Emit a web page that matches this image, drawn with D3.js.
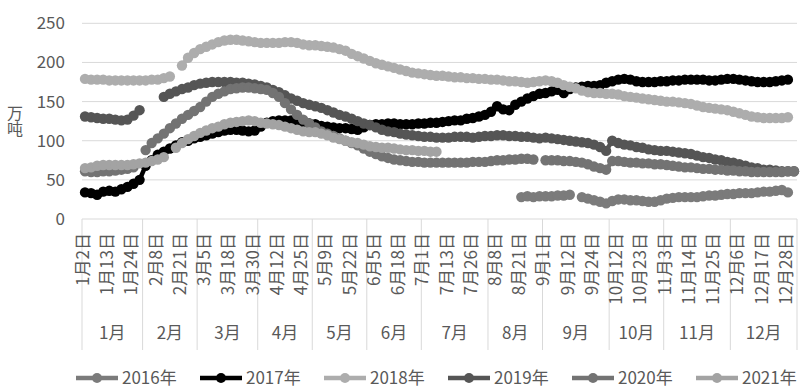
<!DOCTYPE html>
<html>
<head>
<meta charset="utf-8">
<script src="https://cdn.jsdelivr.net/npm/d3@7"></script>
<style>
  body { margin: 0; background: #fff; }
  svg { display: block; font-family: "Noto Sans CJK SC", "Noto Sans", sans-serif; }
</style>
</head>
<body>
<svg id="chart"></svg>
<script>
// ---- data ----
const years = ["2016年", "2017年", "2018年", "2019年", "2020年", "2021年"];
const colors = ["#7b7b7b", "#000000", "#adadad", "#555555", "#737373", "#a3a3a3"];

const months = ["1月", "2月", "3月", "4月", "5月", "6月", "7月", "8月", "9月", "10月", "11月", "12月"];
// number of dates that fall in each month group
const monthDays = [10, 9, 10, 9, 9, 9, 11, 9, 11, 9, 11, 11];

// a label is shown on every 4th date
const tickLabels = ["1月2日", "1月13日", "1月24日", "2月8日", "2月21日", "3月5日", "3月18日", "3月30日",
  "4月12日", "4月25日", "5月9日", "5月22日", "6月5日", "6月18日", "7月1日", "7月13日", "7月26日",
  "8月8日", "8月21日", "9月1日", "9月12日", "9月24日", "10月12日", "10月23日", "11月3日",
  "11月14日", "11月25日", "12月6日", "12月17日", "12月28日"];
const tickEvery = 4;

const yTicks = [0, 50, 100, 150, 200, 250];

const v2016 = [
  null, null, null, null, null, null, null, null, null, null, null, null,
  null, null, null, null, null, null, null, null, null, null, null, null,
  null, null, null, null, null, null, null, null, null, null, null, null,
  null, null, null, null, null, null, null, null, null, null, null, null,
  null, null, null, null, null, null, null, null, null, null, null, null,
  null, null, null, null, null, null, null, null, null, null, null, null,
  28, 29, 28, 29, 29, 29, 30, 30, 31, null, 28, 26, 24, 22, 20, 23, 25, 25, 24, 24,
  23, 22, 22, 24, 26, 27, 28, 28, 28, 28, 29, 30, 30, 31, 32, 32, 33, 33, 33, 34,
  35, 35, 36, 37, 34, null];

const v2017 = [
  34, 33, 31, 35, 36, 35, 38, 41, 45, 50,
  68, 75, 82, 86, 90, 94, 98, 100, 103, 105, 107, 109, 111, 113, 114, 114, 113, 112, 113,
  118, 123, 125, 126, 126, 126, 125, 124, 122, 121, 119, 118, 117, 116, 116, 115, 114, 117, 120,
  121, 121, 122, 122, 121, 121, 121, 122, 122, 123, 123, 124, 125, 126, 126, 128, 129, 131, 133,
  137, 144, 140, 139, 146, 150, 154, 157, 160, 161, 163, 165, 161, 166, 168, 169, 170, 170, 171,
  174, 176, 178, 179, 178, 176, 175, 175, 175, 176, 176, 177, 177, 178, 178, 178, 178, 177, 177,
  178, 179, 179, 178, 177, 176, 175, 175, 175, 176, 177, 178, null];

const v2018 = [
  179, 178, 178, 178, 177, 177, 177, 177, 177, 177, 177, 178, 178, 180, 182, null,
  196, 206, 212, 217, 220, 223, 226, 228, 229, 229, 228, 227, 226,
  225, 225, 225, 225, 226, 226, 225, 223, 222, 222,
  221, 220, 219, 217, 215, 211, 208, 205, 202, 199,
  197, 195, 193, 191, 189, 187, 186, 185, 184, 183,
  183, 182, 181, 181, 180, 180, 179, 179, 178, 178,
  177, 176, 176, 175, 174, 175, 176, 177, 176, 174,
  171, 169, 167, 164, 162, 161, 161, 160, 160, 159,
  157, 156, 155, 154, 153, 152, 151, 150, 150, 149,
  148, 147, 145, 143, 142, 141, 140, 139, 137, 135,
  133, 131, 130, 129, 129, 129, 129, 130, null];

const v2019 = [
  131, 130, 129, 128, 128, 127, 126, 127, 132, 139, null, null, null,
  156, 160, 163, 166, 168, 171, 173, 174, 175, 175, 175, 175, 174, 174, 173, 172,
  170, 168, 165, 162, 158, 154, 151, 148, 146, 144,
  142, 139, 136, 133, 131, 128, 125, 122, 120, 117,
  114, 112, 111, 109, 108, 107, 106, 105, 105, 104,
  104, 104, 105, 105, 105, 104, 105, 106, 106, 107,
  107, 106, 106, 105, 105, 104, 103, 104, 103, 102,
  101, 100, 99, 98, 97, 95, 92, 87, 100, 97,
  95, 94, 92, 91, 89, 88, 87, 87, 86, 85,
  84, 83, 81, 79, 78, 76, 75, 73, 72, 70,
  68, 66, 65, 63, 63, 62, 61, 61, 61];

const v2020 = [
  61, 60, 60, 61, 61, 62, 63, 64, 66, null,
  88, 97, 103, 109, 116, 122, 128, 133, 138, 143, 150, 156, 160, 163, 166, 167, 168, 168, 167,
  166, 165, 161, 156, 148, 140, 133, 127, 122, 117,
  112, 109, 106, 103, 100, 97, 94, 90, 86, 83,
  80, 78, 76, 75, 74, 73, 73, 72, 72, 72,
  72, 72, 72, 72, 72, 73, 73, 73, 74, 75,
  75, 76, 76, 77, 77, 76, null,
  75, 75, 75, 74, 74, 73, 72, 70, 67, 65,
  63, 74, 74, 73, 72, 72, 71, 71, 70, 70,
  69, 68, 67, 66, 66, 65, 64, 64, 63, 63,
  62, 62, 61, 61, 60, 60, 60, 60, 60, 60, 61, 61];

const v2021 = [
  65, 66, 68, 69, 69, 69, 69, 69, 70, 71, 72, 74, 76, 79, null,
  91, 97, 102, 106, 110, 113, 116, 118, 121, 123,
  124, 125, 126, 125, 123, 122, 121, 120, 118, 116,
  114, 112, 111, 111, 109, 107, 104, 102, 100, 98,
  97, 95, 93, 92, 91, 91, 90, 89, 88, 88,
  87, 87, 86, 86,
  null, null, null, null, null, null, null, null, null, null, null, null,
  null, null, null, null, null, null, null, null, null, null, null, null,
  null, null, null, null, null, null, null, null, null, null, null, null,
  null, null, null, null, null, null, null, null, null, null, null, null,
  null, null, null, null, null, null, null, null, null, null, null];

const seriesValues = [v2016, v2017, v2018, v2019, v2020, v2021];

// ---- chart ----
const width = 806, height = 392;
const plotLeft = 82, plotRight = 797, plotTop = 23.3, plotBottom = 219;
const textColor = "#595959";
const gridColor = "#d9d9d9";

const n = d3.sum(monthDays);

const svg = d3.select("#chart")
  .attr("width", width)
  .attr("height", height);

const x = d3.scaleBand()
  .domain(d3.range(n))
  .range([plotLeft, plotRight]);

const y = d3.scaleLinear()
  .domain([0, 250])
  .range([plotBottom, plotTop]);

const cx = i => x(i) + x.bandwidth() / 2;

// gridlines
svg.append("g")
  .selectAll("line")
  .data(yTicks)
  .enter()
  .append("line")
  .attr("x1", plotLeft)
  .attr("x2", plotRight)
  .attr("y1", d => y(d))
  .attr("y2", d => y(d))
  .attr("stroke", gridColor)
  .attr("stroke-width", 1);

// y tick labels
svg.append("g")
  .selectAll("text")
  .data(yTicks)
  .enter()
  .append("text")
  .attr("x", 65)
  .attr("y", d => y(d))
  .attr("dy", "0.35em")
  .attr("text-anchor", "end")
  .attr("font-size", 17)
  .attr("fill", textColor)
  .text(d => d);

// y title: one text, each character placed under the previous one
svg.append("text")
  .attr("x", "15 15")
  .attr("y", "119 135")
  .attr("text-anchor", "middle")
  .attr("font-size", 16)
  .attr("fill", textColor)
  .text("万吨");

// month group boundaries
const monthStarts = [0];
monthDays.forEach((c, i) => monthStarts.push(monthStarts[i] + c));

svg.append("g")
  .selectAll("line")
  .data(monthStarts)
  .enter()
  .append("line")
  .attr("x1", d => d < n ? x(d) : plotRight)
  .attr("x2", d => d < n ? x(d) : plotRight)
  .attr("y1", plotBottom)
  .attr("y2", 350)
  .attr("stroke", gridColor)
  .attr("stroke-width", 1);

// date labels (rotated)
svg.append("g")
  .selectAll("text")
  .data(tickLabels)
  .enter()
  .append("text")
  .attr("transform", (d, i) => `translate(${cx(i * tickEvery) - 2}, 233) rotate(-90)`)
  .attr("dy", "0.35em")
  .attr("text-anchor", "end")
  .attr("font-size", 17)
  .attr("fill", textColor)
  .text(d => d);

// month labels
svg.append("g")
  .selectAll("text")
  .data(months)
  .enter()
  .append("text")
  .attr("x", (d, i) => {
    const a = x(monthStarts[i]);
    const b = monthStarts[i + 1] < n ? x(monthStarts[i + 1]) : plotRight;
    return (a + b) / 2;
  })
  .attr("y", 333)
  .attr("dy", "0.35em")
  .attr("text-anchor", "middle")
  .attr("font-size", 17)
  .attr("fill", textColor)
  .text(d => d);

// series
const line = d3.line()
  .defined(d => d != null)
  .x((d, i) => cx(i))
  .y(d => y(d));

const plot = svg.append("g");
seriesValues.forEach((vals, s) => {
  const g = plot.append("g");
  g.append("path")
    .attr("d", line(vals))
    .attr("fill", "none")
    .attr("stroke", colors[s])
    .attr("stroke-width", 4.5)
    .attr("stroke-linejoin", "round");
  g.selectAll("circle")
    .data(vals.map((v, i) => ({ v, i })).filter(d => d.v != null))
    .enter()
    .append("circle")
    .attr("cx", d => cx(d.i))
    .attr("cy", d => y(d.v))
    .attr("r", 5.2)
    .attr("fill", colors[s]);
});

// legend
const legend = svg.append("g")
  .selectAll("g")
  .data(years)
  .enter()
  .append("g")
  .attr("transform", (d, i) => `translate(${76 + i * 124}, 378)`);

legend.append("line")
  .attr("x1", 0)
  .attr("x2", 42)
  .attr("stroke", (d, i) => colors[i])
  .attr("stroke-width", 4.5);

legend.append("circle")
  .attr("cx", 21)
  .attr("r", 5)
  .attr("fill", (d, i) => colors[i]);

legend.append("text")
  .attr("x", 46)
  .attr("dy", "0.35em")
  .attr("font-size", 17)
  .attr("fill", textColor)
  .text(d => d);
</script>
</body>
</html>
